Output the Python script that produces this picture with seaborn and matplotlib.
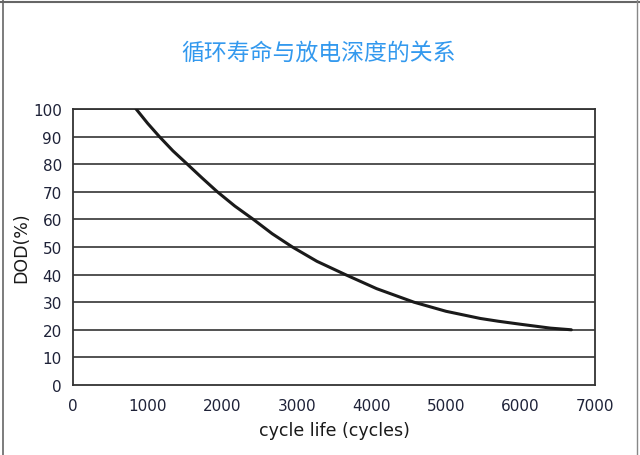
import matplotlib.pyplot as plt
import seaborn as sns
import pandas as pd
from matplotlib.lines import Line2D

# values
cycles = [845, 1000, 1157, 1340, 1532, 1730, 1934, 2170, 2417, 2670, 2940, 3270,
          3650, 4070, 4570, 5000, 5460, 5700, 6000, 6200, 6400, 6680]
dod = [100, 94.8, 90, 84.8, 80, 75, 70, 64.8, 60, 54.8, 50, 44.8,
       40, 34.9, 30, 26.7, 24.1, 23.1, 22.0, 21.3, 20.6, 20]
yticks = [0, 10, 20, 30, 40, 50, 60, 70, 80, 90, 100]
xticks = [0, 1000, 2000, 3000, 4000, 5000, 6000, 7000]

df = pd.DataFrame({'cycles': cycles, 'dod': dod})

sns.set_style("white")
plt.rcParams['font.family'] = ['DejaVu Sans', 'Noto Sans CJK SC']

fig = plt.figure(figsize=(6.4, 4.56), dpi=100)
ax = fig.add_axes([0.114, 0.1535, 0.816, 0.6055])

for v in yticks[1:]:
    ax.axhline(v, color='#444444', lw=1.3, zorder=1)

sns.lineplot(data=df, x='cycles', y='dod', ax=ax, color='#1a1a1a', lw=2.2, zorder=3)

ax.set_xlim(0, 7000)
ax.set_ylim(0, 100)
ax.set_xticks(xticks)
ax.set_yticks(yticks)
ax.tick_params(axis='x', direction='in', length=3, width=1, color='#333333', pad=9,
               labelsize=11, labelcolor='#1e2238')
ax.tick_params(axis='y', length=0, pad=8, labelsize=11, labelcolor='#1e2238')
for s in ['left', 'right', 'bottom', 'top']:
    ax.spines[s].set_color('#333333')
    ax.spines[s].set_linewidth(1.3)

ax.set_xlabel('cycle life (cycles)', fontsize=12.5, color='#1a1a1a', labelpad=6)
ax.set_ylabel('DOD(%)', fontsize=12.5, color='#1a1a1a', labelpad=2)

fig.text(0.497, 0.883, '循环寿命与放电深度的关系', ha='center', va='center',
         fontsize=16.5, color='#3399ee', family=['Noto Sans CJK SC', 'DejaVu Sans'])

# outer frame of the picture
fig.add_artist(Line2D([0, 1], [0.994, 0.994], transform=fig.transFigure, color='#666666', lw=1.5))
fig.add_artist(Line2D([0.004, 0.004], [0, 1], transform=fig.transFigure, color='#666666', lw=1.2))
fig.add_artist(Line2D([0.996, 0.996], [0, 1], transform=fig.transFigure, color='#888888', lw=1))

fig.savefig('out.png', dpi=100)
